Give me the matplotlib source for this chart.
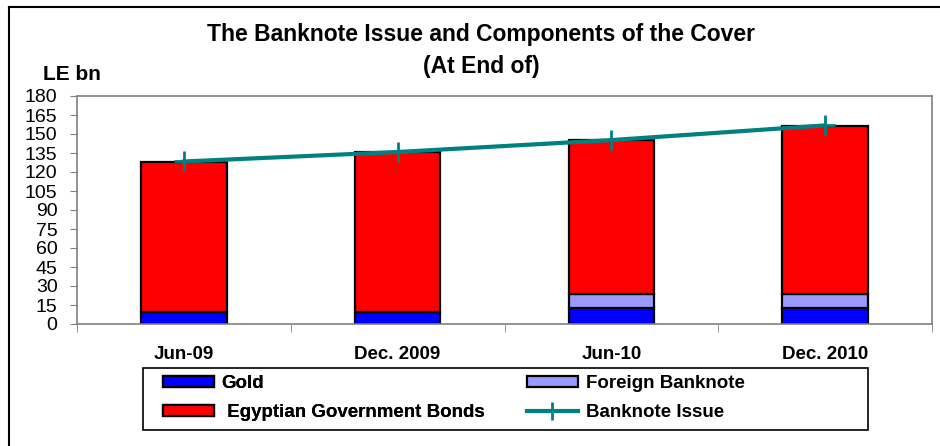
import matplotlib
matplotlib.use("Agg")
import matplotlib.pyplot as plt
from matplotlib.patches import Rectangle
from matplotlib.lines import Line2D
import numpy as np

plt.rcParams['font.family'] = ['Liberation Sans', 'DejaVu Sans']

# End-of-period values, LE bn
periods = ["Jun-09", "Dec. 2009", "Jun-10", "Dec. 2010"]
gold = [9.5, 9.5, 12.6, 12.6]
foreign_banknote = [0.0, 0.0, 11.1, 11.1]
govt_bonds = [118.4, 126.0, 121.2, 132.6]
banknote_issue = [128.3, 135.8, 145.2, 156.8]
y_ticks = list(range(0, 181, 15))

C_GOLD = "#0000FF"
C_FOREIGN = "#9999FF"
C_BONDS = "#FF0000"
C_ISSUE = "#008080"
GRID_GREY = "#808080"

fig = plt.figure(figsize=(9.4, 4.46), dpi=100)
ax = fig.add_axes([77/940, 1-324/446, (932-77)/940, (324-96)/446])

x = np.arange(len(periods))
w = 0.4
bottom1 = np.array(gold)
bottom2 = bottom1 + np.array(foreign_banknote)
bar_kw = dict(width=w, edgecolor="black", linewidth=1.6, zorder=2)
ax.bar(x, gold, color=C_GOLD, **bar_kw)
ax.bar(x, foreign_banknote, bottom=bottom1, color=C_FOREIGN, **bar_kw)
ax.bar(x, govt_bonds, bottom=bottom2, color=C_BONDS, **bar_kw)
ax.plot(x, banknote_issue, color=C_ISSUE, linewidth=3, marker="+",
        markersize=15, markeredgewidth=2, zorder=3, solid_capstyle="projecting")

ax.set_xlim(-0.5, len(periods) - 0.5)
ax.set_ylim(0, 180)
ax.set_yticks(y_ticks)
ax.set_yticklabels([str(t) for t in y_ticks], fontsize=14)
ax.tick_params(axis="y", direction="out", length=5, color=GRID_GREY, pad=9)

ax.set_xticks(x)
ax.set_xticklabels(periods, fontsize=13.5, fontweight="bold")
ax.tick_params(axis="x", which="major", length=0, pad=16)
ax.set_xticks(np.arange(-0.5, len(periods)), minor=True)
ax.tick_params(axis="x", which="minor", direction="out", length=6, color=GRID_GREY)

for s in ax.spines.values():
    s.set_color(GRID_GREY)
    s.set_linewidth(1.2)

fig.text(481/940, 1-34/446, "The Banknote Issue and Components of the Cover",
         ha="center", va="center", fontsize=16.5, fontweight="bold")
fig.text(481/940, 1-66/446, "(At End of)", ha="center", va="center",
         fontsize=16.5, fontweight="bold")
fig.text(43/940, 1-75/446, "LE bn", ha="left", va="center",
         fontsize=15, fontweight="bold")

# outer chart border (left and top edges)
fig.add_artist(Line2D([9/940, 9/940], [0, 1-7/446], transform=fig.transFigure,
                      color="black", linewidth=1.5))
fig.add_artist(Line2D([9/940, 1], [1-7/446, 1-7/446], transform=fig.transFigure,
                      color="black", linewidth=1.5))

# legend box
fig.add_artist(Rectangle((143/940, 1-430/446), (868-143)/940, 62/446,
                         transform=fig.transFigure, fill=False,
                         edgecolor="black", linewidth=1.2))


def bar_handle(color):
    return Rectangle((0, 0), 1, 1, facecolor=color, edgecolor="black", linewidth=1.6)


issue_handle = Line2D([], [], color=C_ISSUE, linewidth=3, marker="+",
                      markersize=13, markeredgewidth=2)

leg_kw = dict(loc="center left", frameon=False,
              prop=dict(size=13.5, weight="bold"), handlelength=2.7,
              handleheight=0.5, handletextpad=0.42, labelspacing=0.62,
              borderpad=0, borderaxespad=0)
leg1 = fig.legend([bar_handle(C_GOLD), bar_handle(C_BONDS)],
                  ["Gold", " Egyptian Government Bonds"],
                  bbox_to_anchor=(163/940, 1-398/446), **leg_kw)
fig.add_artist(leg1)
fig.legend([bar_handle(C_FOREIGN), issue_handle],
           ["Foreign Banknote", "Banknote Issue"],
           bbox_to_anchor=(527/940, 1-398/446), **leg_kw)

fig.savefig("out.png", dpi=100)
